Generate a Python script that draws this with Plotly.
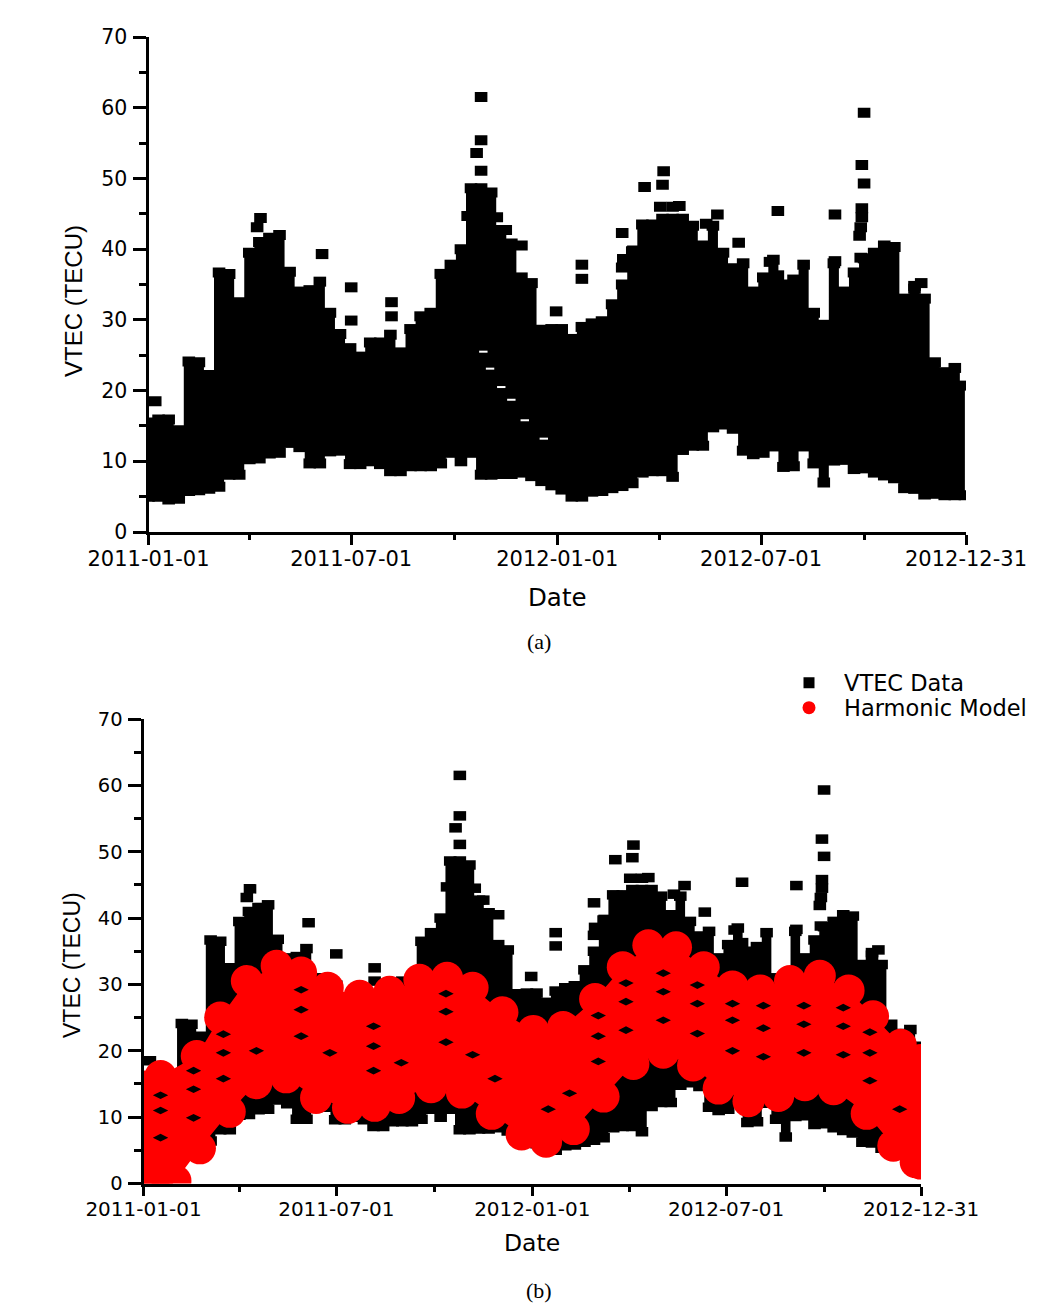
import pandas as pd
import plotly.graph_objects as go

# 1039x1312 window; the page body keeps an 8 px margin
W, H = 1031, 1304
OFF = 8
# Envelope of the dense VTEC scatter, sampled every 9 days
GRID = pd.date_range("2011-01-01", "2012-12-31", freq="9D")
VTEC_UPPER = [15.5,15.9,15.9,14.4,24.1,24.0,22.2,36.7,36.5,32.5,39.5,41.0,41.6,42.0,36.8,34.0,34.2,35.4,31.0,28.0,26.0,
              24.8,26.8,26.8,27.9,25.4,28.7,30.5,31.0,36.5,37.8,40.0,48.6,48.6,48.0,42.7,40.8,36.0,35.2,28.6,28.7,
              28.7,27.3,29.0,29.5,29.8,32.2,35.0,39.7,43.5,43.5,44.3,44.3,44.3,43.3,40.5,43.3,39.5,37.3,38.0,34.0,
              36.0,38.5,35.0,35.7,37.8,31.0,29.3,38.0,34.0,36.7,38.7,39.5,40.5,40.3,33.0,34.8,33.0,24.0,22.6,23.2,20.7]
VTEC_LOWER = [5.0,5.0,4.6,4.7,5.8,5.9,6.1,6.4,8.1,8.1,10.3,10.4,11.1,11.2,12.6,12.0,9.7,9.7,11.4,11.5,9.6,
              9.6,10.0,9.6,8.6,8.6,9.3,9.3,9.3,9.7,11.2,10.0,11.2,8.1,8.1,8.2,8.2,8.4,7.9,7.2,6.6,
              6.0,5.0,5.0,5.7,5.8,6.2,6.5,6.9,8.4,8.6,8.6,7.8,11.6,12.2,12.2,14.8,15.2,14.6,11.5,11.0,
              11.2,12.1,9.2,9.3,12.1,9.7,7.0,10.1,10.2,8.9,9.0,8.4,8.0,7.6,6.2,6.1,5.3,5.4,5.2,5.2,5.2]
# Isolated VTEC points outside the dense envelope
OUT_DAY = [6,297,297,293,297,285,311,333,319,155,181,181,217,217,100,97,364,387,387,423,443,459,460,457,468,474,424,423,433,444,
           508,498,527,562,613,613,639,637,639,637,637,636,635,636,555,562,690,684,688]
OUT_VAL = [18.5,61.5,55.4,53.6,51.1,44.7,44.5,40.5,42.7,39.3,34.6,29.9,32.5,30.5,44.4,43.1,31.2,37.8,35.8,42.3,48.8,49.1,51.0,46.0,46.0,46.1,38.6,37.4,39.8,43.4,
           44.9,43.6,40.9,45.4,44.9,38.3,59.3,51.9,49.3,45.8,44.5,43.1,41.9,38.8,38.2,36.3,35.2,34.4,32.5]
# Harmonic model envelope (lobe crests)
MOD_UP_DAY = [0,16,50,72,97,125,148,173,203,231,259,285,309,337,366,394,424,450,474,500,526,553,579,607,635,662,685,711,730]
MOD_UP_VAL = [14.6,16.2,19.2,25.0,30.5,32.8,31.8,29.5,28.3,28.9,30.7,31.0,29.5,25.8,23.0,23.6,27.8,32.6,35.9,35.6,32.6,29.7,29.1,30.5,31.3,29.1,25.2,20.9,18.6]
MOD_LO_DAY = [0,16,30,53,81,106,134,162,192,217,240,270,299,327,355,378,404,432,460,488,516,540,568,596,621,648,679,704,725,730]
MOD_LO_VAL = [0.0,-2.0,0.4,5.3,10.8,15.1,16.0,12.9,11.4,11.7,12.9,14.5,13.7,10.5,7.4,6.3,8.2,13.1,18.0,19.7,17.8,14.3,12.4,13.2,14.8,14.2,10.5,5.7,3.2,3.0]
# Small openings in the model band where VTEC data shows through
GAP_DAY = [16,16,16,47,47,47,75,75,75,106,148,148,148,175,216,216,216,242,284,284,284,309,330,380,400,427,427,427,453,453,453,
           488,488,488,520,520,520,553,553,553,582,582,582,620,620,620,657,657,657,682,682,682,710]
GAP_VAL = [6.9,11.0,13.3,9.9,14.2,17.0,15.8,19.7,22.5,20.0,22.2,26.2,29.2,19.7,17.0,20.7,23.7,18.2,21.3,25.9,28.6,19.4,15.8,11.2,13.6,18.4,22.2,25.3,23.1,27.4,30.2,
           24.6,28.9,31.7,22.6,27.1,29.9,20.0,24.6,27.1,19.1,23.4,26.8,19.7,24.0,26.8,19.4,23.7,26.5,15.5,19.7,22.8,11.2]
# Thin white slits left between points of the dense cloud in panel (a)
SLIT_DAY = [299,305,315,324,336,353]
SLIT_VAL = [25.5,23.1,20.5,18.7,15.8,13.2]
TICK_DATES = ["2011-01-01", "2011-07-01", "2012-01-01", "2012-07-01", "2012-12-31"]
MINOR_DATES = ["2011-04-01", "2011-10-01", "2012-04-01", "2012-10-01"]
Y_TICKS = [0, 10, 20, 30, 40, 50, 60, 70]

START = pd.Timestamp("2011-01-01")
def dates(days):
    return [START + pd.Timedelta(days=d) for d in days]

fig = go.Figure()

def add_vtec(xa, ya, thick):
    rect = dict(symbol="line-ew", size=9, color="black", line=dict(width=thick, color="black"))
    fig.add_trace(go.Scatter(x=list(GRID) + list(GRID)[::-1], y=VTEC_UPPER + VTEC_LOWER[::-1], mode="lines",
                             line=dict(width=0, color="black", shape="hvh"), fill="toself", fillcolor="black",
                             xaxis=xa, yaxis=ya, showlegend=False))
    for xs, ys in ((GRID, VTEC_LOWER), (GRID, VTEC_UPPER), (dates(OUT_DAY), OUT_VAL)):
        fig.add_trace(go.Scatter(x=xs, y=ys, mode="markers", marker=rect, xaxis=xa, yaxis=ya, showlegend=False))

add_vtec("x", "y", 10)
fig.add_trace(go.Scatter(x=dates(SLIT_DAY), y=SLIT_VAL, mode="markers", xaxis="x", yaxis="y", showlegend=False,
                         marker=dict(symbol="line-ew", size=6, color="white", line=dict(width=2, color="white"))))
add_vtec("x2", "y2", 9.5)
RED = dict(symbol="circle", size=32, color="#ff0000")
fig.add_trace(go.Scatter(x=dates(MOD_UP_DAY) + dates(MOD_LO_DAY)[::-1], y=MOD_UP_VAL + MOD_LO_VAL[::-1], mode="lines",
                         line=dict(width=0, color="#ff0000"), fill="toself", fillcolor="#ff0000", xaxis="x2", yaxis="y2", showlegend=False))
fig.add_trace(go.Scatter(x=dates(MOD_LO_DAY), y=MOD_LO_VAL, mode="markers", marker=RED, xaxis="x2", yaxis="y2", showlegend=False))
fig.add_trace(go.Scatter(x=dates(MOD_UP_DAY), y=MOD_UP_VAL, mode="markers", marker=RED, xaxis="x2", yaxis="y2", showlegend=False))
fig.add_trace(go.Scatter(x=dates(GAP_DAY), y=GAP_VAL, mode="markers", marker=dict(symbol="diamond-wide", size=11, color="black"),
                         xaxis="x2", yaxis="y2", showlegend=False))
# legend keys
fig.add_trace(go.Scatter(x=[None], y=[None], name="VTEC Data", mode="markers", legend="legend",
                         marker=dict(symbol="square", size=11, color="black"), xaxis="x2", yaxis="y2"))
fig.add_trace(go.Scatter(x=[None], y=[None], name="Harmonic Model", mode="markers", legend="legend2",
                         marker=dict(symbol="circle", size=13, color="#ff0000"), xaxis="x2", yaxis="y2"))

def px_x(x):
    return (x - OFF) / W
def px_y(y):
    return 1 - (y - OFF) / H

def xaxis(dom, anchor, tl, fs):
    return dict(domain=[px_x(dom[0]), px_x(dom[1])], anchor=anchor, type="date", range=["2011-01-01", "2012-12-31"],
                tickmode="array", tickvals=TICK_DATES, ticktext=TICK_DATES,
                tickfont=dict(family="DejaVu Sans", size=fs, color="black"), ticklabelstandoff=-4,
                ticks="outside", ticklen=tl, tickwidth=3, tickcolor="black",
                minor=dict(tickmode="array", tickvals=MINOR_DATES, ticks="outside", ticklen=5, tickwidth=3, tickcolor="black"),
                showline=True, linewidth=3, linecolor="black", showgrid=False, zeroline=False, automargin=False)

def yaxis(dom, anchor, fs):
    return dict(domain=[px_y(dom[1]), px_y(dom[0])], anchor=anchor, range=[0, 70],
                tickmode="array", tickvals=Y_TICKS,
                tickfont=dict(family="DejaVu Sans", size=fs, color="black"), ticklabelstandoff=1,
                ticks="outside", ticklen=13, tickwidth=3, tickcolor="black",
                minor=dict(dtick=5, ticks="outside", ticklen=7, tickwidth=3, tickcolor="black"),
                showline=True, linewidth=3, linecolor="black", showgrid=False, zeroline=False, automargin=False)

def label(text, x, y, fam, size, angle=0):
    return dict(text=text, x=px_x(x), y=px_y(y), xref="paper", yref="paper", showarrow=False, textangle=angle,
                xanchor="center", yanchor="middle", font=dict(family=fam, size=size, color="black"))

def legend_at(y):
    return dict(x=px_x(774), y=px_y(y), xanchor="left", yanchor="middle", bgcolor="rgba(0,0,0,0)", borderwidth=0,
                font=dict(family="DejaVu Sans", size=22.5, color="black"), itemwidth=60)

fig.update_layout(
    width=W, height=H, autosize=False, paper_bgcolor="white", plot_bgcolor="white",
    margin=dict(l=0, r=0, t=0, b=0),
    xaxis=xaxis((148.5, 966), "y", 10, 21),
    yaxis=yaxis((37, 532), "x", 20.5),
    xaxis2=xaxis((143.5, 921), "y2", 9, 20),
    yaxis2=yaxis((719, 1183.5), "x2", 19.5),
    legend=legend_at(683),
    legend2=legend_at(708),
    annotations=[
        label("(a)", 539, 641, "Liberation Serif", 22),
        label("(b)", 539, 1290, "Liberation Serif", 22),
        label("Date", 557, 598, "DejaVu Sans", 24.5),
        label("Date", 532, 1243, "DejaVu Sans", 23.5),
        label("VTEC (TECU)", 73, 301, "Liberation Sans", 24, -90),
        label("VTEC (TECU)", 72, 965, "Liberation Sans", 23, -90),
    ],
)
fig.write_html("out.html")
